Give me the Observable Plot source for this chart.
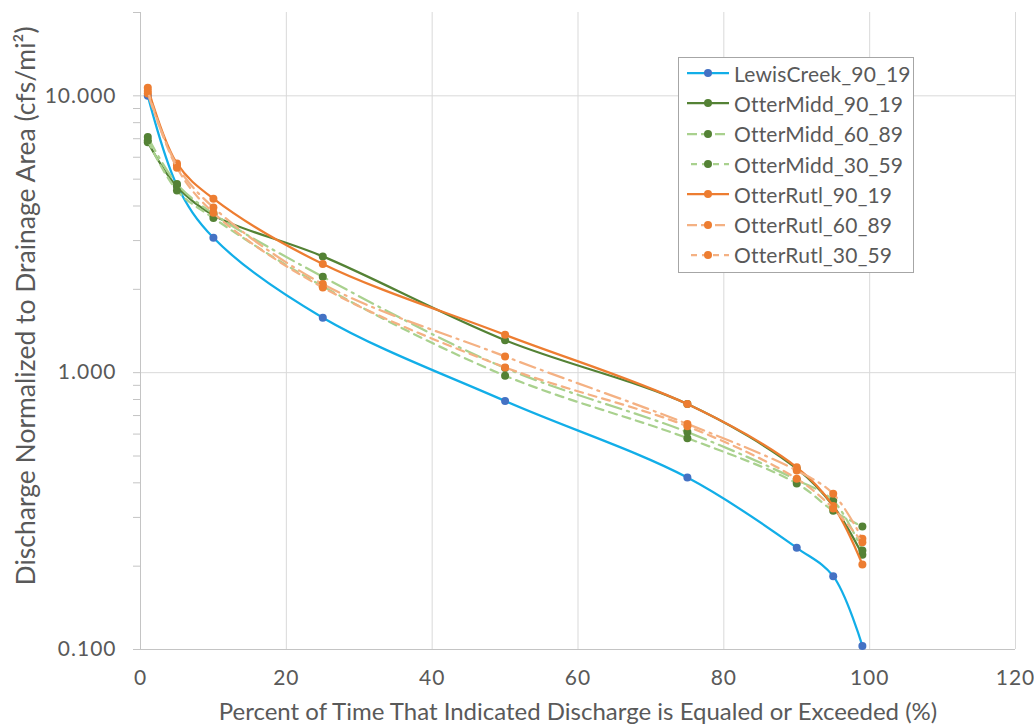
<!DOCTYPE html>
<html><head><meta charset="utf-8">
<script src="https://cdn.jsdelivr.net/npm/d3@7"></script>
<script src="https://cdn.jsdelivr.net/npm/@observablehq/plot@0.6"></script>
<style>
body{margin:0;background:#fff;font-family:Lato,sans-serif;}
#wrap{position:relative;width:1034px;height:726px;}
#legend{position:absolute;left:678px;top:57px;width:236px;height:216px;border:1.5px solid #a6a6a6;background:#fff;box-sizing:border-box;padding-top:0px;}
.row{height:30.3px;display:flex;align-items:center;padding-left:8px;color:#595959;font-size:21px;font-family:Lato,sans-serif;white-space:nowrap;letter-spacing:0.2px;}
.row svg{margin-right:3px;flex:none;}
g[aria-label="y-axis tick label"] text, g[aria-label="x-axis tick label"] text{letter-spacing:1px;}
</style></head>
<body><div id="wrap"></div>
<script>
const xPct = [1, 5, 10, 25, 50, 75, 90, 95, 99];
const seriesNames = ["LewisCreek_90_19","OtterMidd_90_19","OtterMidd_60_89","OtterMidd_30_59","OtterRutl_90_19","OtterRutl_60_89","OtterRutl_30_59"];
const lewisCreek_90_19 = [10.0, 4.75, 3.07, 1.58, 0.79, 0.418, 0.233, 0.184, 0.103];
const otterMidd_90_19  = [6.8, 4.7, 3.7, 2.63, 1.31, 0.77, 0.45, 0.33, 0.22];
const otterMidd_60_89  = [7.1, 4.8, 3.75, 2.22, 1.04, 0.61, 0.41, 0.345, 0.228];
const otterMidd_30_59  = [6.9, 4.55, 3.62, 2.05, 0.975, 0.58, 0.398, 0.317, 0.278];
const otterRutl_90_19  = [10.7, 5.7, 4.25, 2.47, 1.37, 0.77, 0.455, 0.33, 0.203];
const otterRutl_60_89  = [10.2, 5.6, 3.95, 2.09, 1.145, 0.653, 0.443, 0.365, 0.251];
const otterRutl_30_59  = [10.4, 5.5, 3.78, 2.03, 1.045, 0.64, 0.414, 0.323, 0.244];
const seriesValues = [lewisCreek_90_19, otterMidd_90_19, otterMidd_60_89, otterMidd_30_59, otterRutl_90_19, otterRutl_60_89, otterRutl_30_59];
const xTicks = [0, 20, 40, 60, 80, 100, 120];
const yLabelTicks = [0.1, 1, 10];
const xLabel = "Percent of Time That Indicated Discharge is Equaled or Exceeded (%)";
const yLabel = "Discharge Normalized to Drainage Area (cfs/mi\u00B2)";

const styles = [
  {line:"#12aee8", marker:"#4472c4", dash:null},
  {line:"#548235", marker:"#548235", dash:null},
  {line:"#a9d18e", marker:"#548235", dash:"16,6,2,6"},
  {line:"#a9d18e", marker:"#548235", dash:"8,6"},
  {line:"#ed7d31", marker:"#ed7d31", dash:null},
  {line:"#f4b183", marker:"#ed7d31", dash:"16,6,2,6"},
  {line:"#f4b183", marker:"#ed7d31", dash:"8,6"}
];

const yDomain = [0.1, 20];
const minorTicks = d3.scaleLog().domain(yDomain).ticks();
const fmt = d3.format(".3f");
const isLabel = d => yLabelTicks.some(t => Math.abs(t - d) < 1e-9);

const seriesMarks = [];
seriesNames.forEach((name, i) => {
  const data = xPct.map((x, j) => ({series: name, x, y: seriesValues[i][j]}));
  const s = styles[i];
  seriesMarks.push(Plot.line(data, {x:"x", y:"y", stroke:s.line, strokeWidth:2.25, strokeDasharray:s.dash || undefined, curve:"catmull-rom"}));
  seriesMarks.push(Plot.dot(data, {x:"x", y:"y", r:4, fill:s.marker, stroke:"none"}));
});

const chart = Plot.plot({
  width: 1034, height: 726,
  marginLeft: 140, marginRight: 19, marginTop: 12, marginBottom: 77,
  style: {fontFamily: "Lato, sans-serif", background: "#fff"},
  x: {domain: [0, 120], axis: null},
  y: {type: "log", domain: yDomain, axis: null},
  marks: [
    Plot.ruleX(xTicks.filter(d => d > 0), {stroke: "#d9d9d9", strokeWidth: 1}),
    Plot.ruleY(yLabelTicks.filter(d => d > 0.1), {stroke: "#d9d9d9", strokeWidth: 1}),
    Plot.ruleX([0], {stroke: "#c4c4c4", strokeWidth: 1}),
    Plot.ruleY([0.1], {stroke: "#c4c4c4", strokeWidth: 1}),
    Plot.axisY({ticks: minorTicks, tickSize: 7, tickPadding: 17, stroke: "#c4c4c4", fill: "#595959", fontSize: 21, tickFormat: d => isLabel(d) ? fmt(d) : "", label: null}),
    Plot.axisX({ticks: xTicks, tickSize: 0, tickPadding: 21, fill: "#595959", fontSize: 21, tickFormat: d => String(d), label: null}),
    Plot.text([xLabel], {frameAnchor: "bottom", lineAnchor: "middle", textAnchor: "middle", dy: 63, fontSize: 24, fill: "#595959", text: d => d}),
    Plot.text([yLabel], {frameAnchor: "left", lineAnchor: "middle", textAnchor: "middle", dx: -114, dy: -25, rotate: -90, fontSize: 26.5, fill: "#595959", text: d => d}),
    ...seriesMarks
  ]
});

const wrap = document.getElementById("wrap");
wrap.appendChild(chart);

const legend = document.createElement("div");
legend.id = "legend";
seriesNames.forEach((name, i) => {
  const s = styles[i];
  const row = document.createElement("div");
  row.className = "row";
  const dashAttr = s.dash ? (i === 2 || i === 5 ? ` stroke-dasharray="10,4"` : ` stroke-dasharray="6,5"`) : "";
  const x0 = s.dash && !(i === 2 || i === 5) ? 4 : 0;
  row.innerHTML = `<svg width="44" height="12"><line x1="${x0}" x2="42" y1="6" y2="6" stroke="${s.line}" stroke-width="2.25"${dashAttr}/><circle cx="21" cy="6" r="4" fill="${s.marker}"/></svg><span>${name}</span>`;
  legend.appendChild(row);
});
wrap.appendChild(legend);
</script>
</body></html>
